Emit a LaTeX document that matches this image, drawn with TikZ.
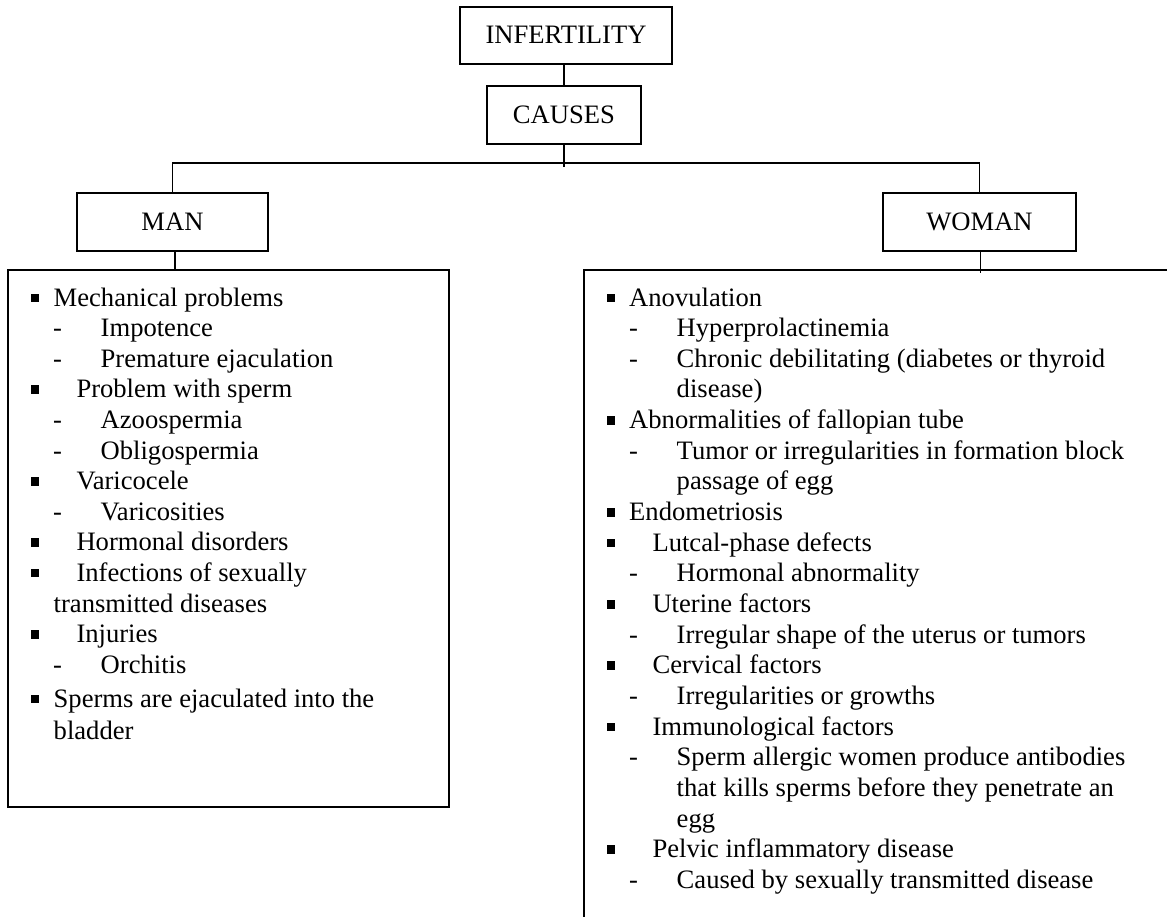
\documentclass[tikz,border=0pt]{standalone}
\usepackage{fontspec}
\setmainfont{Liberation Serif}
\newcommand\symB{\hspace*{23pt}\rule[4pt]{8.4pt}{8.4pt}}
\newcommand\symD{\hspace*{45.5pt}-}
\newcommand\symN{\strut}
\newcommand\symS{\strut}
\begin{document}
\begin{tikzpicture}[x=1pt,y=-1pt,
  hbox/.style={draw,line width=2pt,inner sep=0,font=\fontsize{26.6}{30.5}\selectfont},
  link/.style={line width=1.6pt},
  row/.style={anchor=base west,inner sep=0,font=\fontsize{26.6}{30.5}\selectfont}]
\useasboundingbox (0,0) rectangle (1167,917);
% header boxes
\node[hbox,minimum width=212,minimum height=57] (inf) at (566,35.2) {INFERTILITY};
\node[hbox,minimum width=154.3,minimum height=58] (cau) at (563.9,115) {CAUSES};
\node[hbox,minimum width=191,minimum height=58] (man) at (172.5,222) {MAN};
\node[hbox,minimum width=193,minimum height=58] (wom) at (979.5,222) {WOMAN};
% content boxes
\node[draw,line width=2pt,minimum width=441.5,minimum height=536,inner sep=0] (mbox) at (228.25,538.5) {};
\draw[line width=2pt] (1168,270.5) -- (583.5,270.5) -- (583.5,918);
\coordinate (split) at (563.9,163.3);
\coordinate (mx) at (175,251);
\coordinate (wend) at (980.5,272.7);
% connectors
\draw[link] (inf.south -| cau.north) -- (cau.north);
\draw[link] (cau.south) -- ++(0,22);
\draw[link] (man.north) -- (man.north |- split) -| (wom.north);
\draw[link] (man.south -| mx) -- (mx |- mbox.north);
\draw[link] (wom.south -| wend) -- (wend);
% man list
\foreach [count=\i] \sym/\tx/\y/\t in {
B/46/306/Mechanical problems,
D/93/336.6/Impotence,
D/93/367.2/Premature ejaculation,
B/68.8/397.8/Problem with sperm,
D/93/428.4/Azoospermia,
D/93/459/Obligospermia,
B/68.8/489.6/Varicocele,
D/93/520.2/Varicosities,
B/68.8/550.8/Hormonal disorders,
B/68.8/581.4/Infections of sexually,
N/46/612/transmitted diseases,
B/68.8/642.6/Injuries,
D/93/673.2/Orchitis,
B/46/707/Sperms are ejaculated into the,
N/46/739/bladder}{
  \node[row] (ms\i) at (7.5,\y) {\csname sym\sym\endcsname};
  \node[row] (m\i) at ({7.5+\tx},\y) {\t};
}
% woman list
\foreach [count=\i] \sym/\tx/\t in {
B/45.5/Anovulation,
D/93/Hyperprolactinemia,
D/93/Chronic debilitating (diabetes or thyroid,
S/93/disease),
B/45.5/Abnormalities of fallopian tube,
D/93/Tumor or irregularities in formation block,
S/93/passage of egg,
B/45.5/Endometriosis,
B/68.8/Lutcal-phase defects,
D/93/Hormonal abnormality,
B/68.8/Uterine factors,
D/93/Irregular shape of the uterus or tumors,
B/68.8/Cervical factors,
D/93/Irregularities or growths,
B/68.8/Immunological factors,
D/93/Sperm allergic women produce antibodies,
S/93/that kills sperms before they penetrate an,
S/93/egg,
B/68.8/Pelvic inflammatory disease,
D/93/Caused by sexually transmitted disease}{
  \pgfmathsetmacro\yy{306+30.65*(\i-1)}
  \node[row] (ws\i) at (583.5,\yy) {\csname sym\sym\endcsname};
  \node[row] (w\i) at ({583.5+\tx},\yy) {\t};
}
\end{tikzpicture}
\end{document}
